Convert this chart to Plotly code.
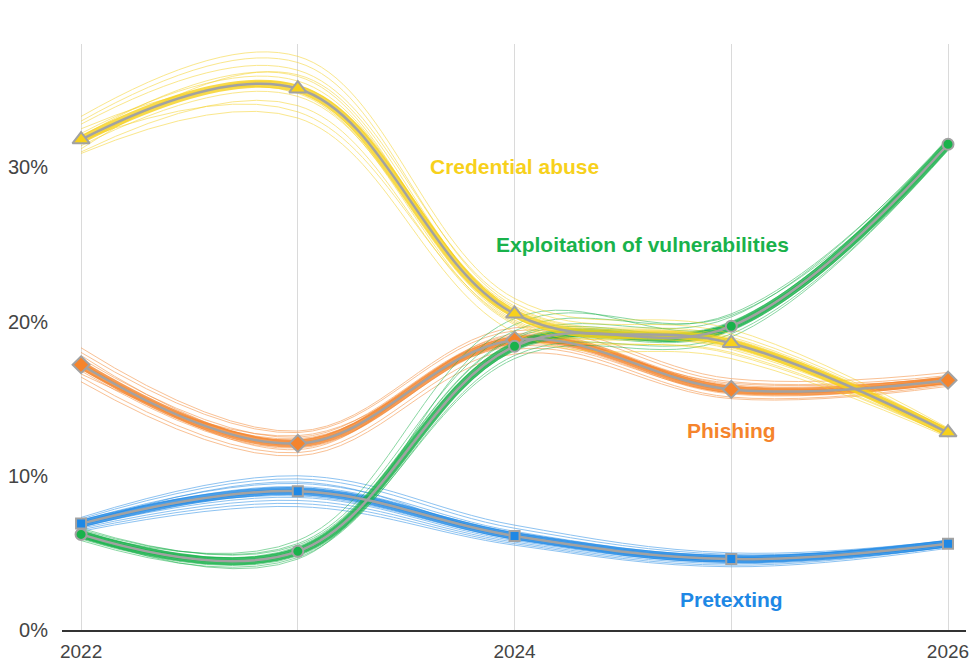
import plotly.graph_objects as go

years = [2022, 2023, 2024, 2025, 2026]
tick_labels = ["2022", "", "2024", "", "2026"]
y_ticks = [0, 10, 20, 30]
y_tick_labels = ["0%", "10%", "20%", "30%"]

credential_abuse = [31.8, 35.1, 20.5, 18.6, 12.8]
phishing = [17.2, 12.1, 18.8, 15.6, 16.2]
exploitation = [6.2, 5.1, 18.4, 19.7, 31.5]
pretexting = [6.9, 9.0, 6.1, 4.6, 5.6]

credential_samples = [
    [32.2, 35.6, 20.8, 18.9, 12.9],
    [31.4, 34.6, 20.1, 18.3, 12.7],
    [32.8, 36.3, 21.2, 19.2, 13.0],
    [31.0, 34.0, 19.8, 18.0, 12.6],
    [33.3, 37.2, 21.5, 19.5, 13.1],
    [30.9, 33.2, 19.3, 17.6, 12.5],
    [32.0, 35.9, 20.3, 18.4, 12.8],
    [31.6, 35.3, 20.9, 18.8, 12.9],
    [32.5, 34.8, 19.9, 18.7, 12.7],
    [31.2, 36.0, 20.6, 18.2, 12.9],
    [33.0, 36.8, 21.0, 19.0, 13.0],
    [31.8, 33.6, 20.0, 17.9, 12.6],
]
phishing_samples = [
    [17.6, 12.5, 19.1, 15.9, 16.4],
    [16.8, 11.8, 18.5, 15.3, 16.0],
    [18.0, 12.8, 19.4, 16.1, 16.5],
    [16.4, 11.5, 18.2, 15.1, 15.9],
    [17.3, 12.3, 19.0, 15.7, 16.3],
    [18.3, 12.9, 19.6, 16.3, 16.7],
    [16.1, 11.3, 17.9, 15.0, 15.8],
    [17.0, 12.0, 18.7, 15.5, 16.2],
    [17.8, 12.2, 18.9, 15.8, 16.1],
    [16.6, 12.6, 18.4, 15.4, 16.4],
    [17.4, 11.7, 19.2, 15.6, 16.0],
    [16.9, 12.4, 18.6, 16.0, 16.3],
]
exploitation_samples = [
    [6.4, 5.3, 18.7, 20.0, 31.7],
    [6.0, 4.9, 18.1, 19.4, 31.3],
    [6.6, 5.5, 19.0, 20.3, 31.9],
    [5.8, 4.7, 17.8, 19.2, 31.1],
    [6.3, 5.2, 18.5, 19.8, 31.6],
    [6.1, 5.0, 18.3, 19.6, 31.4],
    [6.5, 5.6, 19.4, 20.5, 31.8],
    [5.9, 4.8, 17.6, 19.0, 31.2],
    [6.2, 5.4, 18.9, 19.9, 31.5],
    [6.0, 5.1, 18.2, 19.5, 31.6],
    [6.3, 5.8, 20.2, 19.8, 31.4],
    [6.1, 4.6, 19.8, 20.4, 31.5],
]
pretexting_samples = [
    [7.0, 9.3, 6.3, 4.7, 5.6],
    [6.7, 8.6, 5.8, 4.4, 5.5],
    [7.2, 9.8, 6.6, 4.9, 5.7],
    [6.5, 8.2, 5.6, 4.2, 5.4],
    [6.9, 9.1, 6.2, 4.6, 5.6],
    [7.1, 9.5, 6.4, 4.8, 5.8],
    [6.6, 8.4, 5.7, 4.3, 5.4],
    [6.8, 8.9, 6.0, 4.5, 5.5],
    [7.3, 10.0, 6.8, 5.0, 5.8],
    [6.4, 8.0, 5.5, 4.1, 5.3],
    [6.9, 9.6, 6.1, 4.7, 5.6],
    [7.0, 8.7, 5.9, 4.5, 5.7],
]

YELLOW = "#f7d11c"
ORANGE = "#f5842c"
GREEN = "#19b24b"
BLUE = "#1e88e5"
GREY = "#a2a2a2"

series = [
    ("Pretexting", pretexting, pretexting_samples, BLUE, "square", 10),
    ("Phishing", phishing, phishing_samples, ORANGE, "diamond", 13),
    ("Exploitation of vulnerabilities", exploitation, exploitation_samples, GREEN, "circle", 11),
    ("Credential abuse", credential_abuse, credential_samples, YELLOW, "triangle-up", 15),
]

SMOOTH = 1.1
fig = go.Figure()

for name, main, samples, color, sym, msize in series:
    for s in samples:
        fig.add_trace(go.Scatter(
            x=years, y=s, mode="lines",
            line=dict(color=color, width=1, shape="spline", smoothing=SMOOTH),
            opacity=0.5, hoverinfo="skip", showlegend=False,
        ))
    fig.add_trace(go.Scatter(
        x=years, y=main, mode="lines",
        line=dict(color=color, width=8, shape="spline", smoothing=SMOOTH),
        opacity=0.8, hoverinfo="skip", showlegend=False,
    ))

for name, main, samples, color, sym, msize in series:
    fig.add_trace(go.Scatter(
        x=years, y=main, mode="lines+markers", name=name,
        line=dict(color=GREY, width=2.5, shape="spline", smoothing=SMOOTH),
        marker=dict(symbol=sym, size=msize, color=color, line=dict(color=GREY, width=2)),
        showlegend=False,
    ))

labels = [
    ("Credential abuse", 2024.0, 30.05, YELLOW),
    ("Exploitation of vulnerabilities", 2024.59, 25.0, GREEN),
    ("Phishing", 2025.0, 12.95, ORANGE),
    ("Pretexting", 2025.0, 1.95, BLUE),
]
for text, x, y, color in labels:
    fig.add_annotation(
        x=x, y=y, text="<b>" + text + "</b>", showarrow=False,
        xanchor="center", yanchor="middle",
        font=dict(family="Liberation Sans, Arial, sans-serif", size=21, color=color),
    )

fig.update_layout(
    width=972, height=662,
    margin=dict(l=62, r=6, t=44, b=32),
    paper_bgcolor="white", plot_bgcolor="white",
    font=dict(family="Liberation Sans, Arial, sans-serif", color="#444444", size=18),
    showlegend=False,
)
fig.update_xaxes(
    range=[2021.912, 2026.083], automargin=False,
    tickvals=years, ticktext=tick_labels,
    showgrid=True, gridcolor="#dadada", gridwidth=1,
    showline=True, linecolor="#333333", linewidth=2,
    zeroline=False, ticks="", ticklabelstandoff=3,
    tickfont=dict(size=19, color="#444444"),
)
fig.update_yaxes(
    range=[0, 38], automargin=False,
    tickvals=y_ticks, ticktext=y_tick_labels,
    showgrid=False, zeroline=False, showline=False, ticks="",
    ticklabelstandoff=13,
    tickfont=dict(size=20, color="#444444"),
)

fig.write_html(
    "out.html",
    config={"displayModeBar": False},
    post_script="document.body.style.margin='0';document.body.style.overflow='hidden';",
)
